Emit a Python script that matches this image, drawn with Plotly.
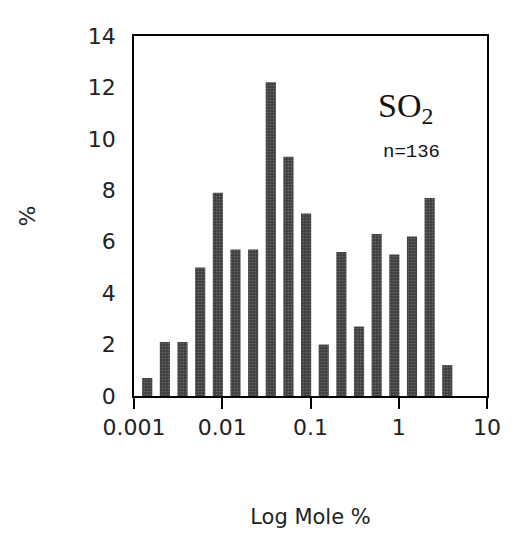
import plotly.graph_objects as go

# bin centres in log10(mole %), 0.2-decade bins
log_bin_centers = [-2.85, -2.65, -2.45, -2.25, -2.05, -1.85, -1.65, -1.45, -1.25,
                   -1.05, -0.85, -0.65, -0.45, -0.25, -0.05, 0.15, 0.35, 0.55]
percent = [0.7, 2.1, 2.1, 5.0, 7.9, 5.7, 5.7, 12.2, 9.3,
           7.1, 2.0, 5.6, 2.7, 6.3, 5.5, 6.2, 7.7, 1.2]
x_tick_vals = [-3, -2, -1, 0, 1]
x_tick_text = ["0.001", "0.01", "0.1", "1", "10"]
y_tick_vals = [0, 2, 4, 6, 8, 10, 12, 14]

fig = go.Figure()
fig.add_trace(go.Bar(
    x=log_bin_centers, y=percent, width=0.115,
    marker=dict(color="#4d4d4d", line=dict(width=0),
                pattern=dict(shape=".", fgcolor="#9a9a9a", bgcolor="#3f3f3f",
                             size=3, solidity=0.25)),
))

font_main = "DejaVu Sans"
fig.update_layout(
    width=516, height=540,
    margin=dict(l=134, r=29, t=36, b=144),
    paper_bgcolor="white", plot_bgcolor="white",
    showlegend=False,
    font=dict(family=font_main, color="#111"),
    xaxis=dict(range=[-3, 1], tickvals=x_tick_vals, ticktext=x_tick_text,
               ticks="outside", ticklen=11, tickwidth=1.5, tickcolor="black",
               showline=True, linecolor="black", linewidth=1.5, mirror=True,
               showgrid=False, zeroline=False,
               tickfont=dict(size=22, family=font_main, color="#222"),
               title=dict(text="Log Mole %", font=dict(size=21, family=font_main, color="#222"),
                          standoff=70)),
    yaxis=dict(range=[0, 14], tickvals=y_tick_vals,
               ticks="", showline=True, linecolor="black", linewidth=1.5, mirror=True,
               showgrid=False, zeroline=False, ticklabelstandoff=12,
               tickfont=dict(size=22, family=font_main, color="#222"),
               title=dict(text="%", font=dict(size=22, family=font_main, color="#222"),
                          standoff=46)),
    annotations=[
        dict(x=0.08, y=11.2, xref="x", yref="y", text="SO<sub>2</sub>", showarrow=False,
             font=dict(family="Liberation Serif", size=34, color="#111")),
        dict(x=0.14, y=9.5, xref="x", yref="y", text="n=136", showarrow=False,
             font=dict(family="Liberation Mono", size=19, color="#111")),
    ],
)

fig.write_html("out.html")
